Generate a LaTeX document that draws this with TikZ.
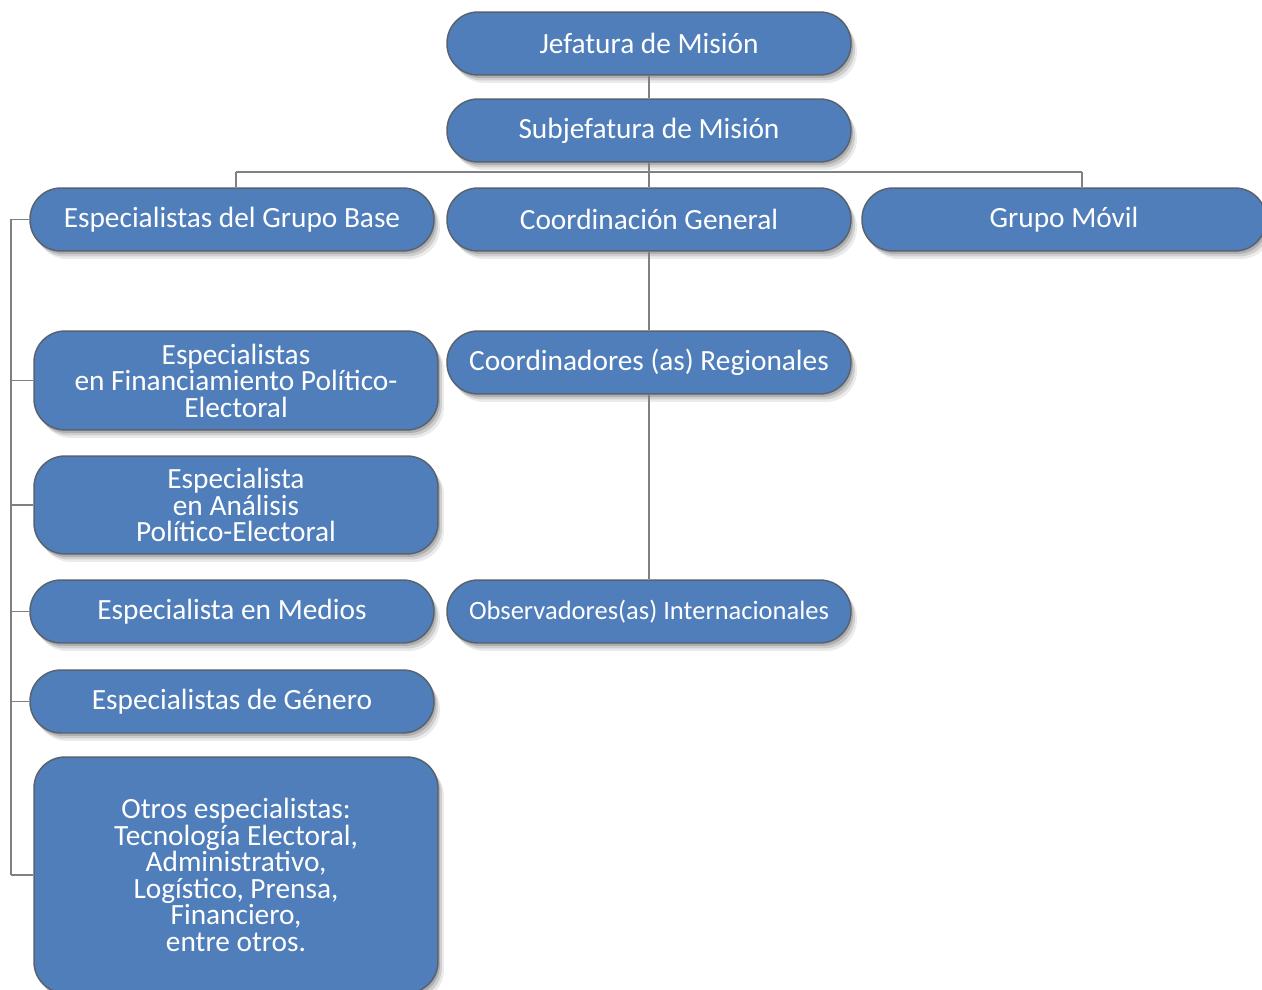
\documentclass[tikz,border=0pt]{standalone}
\usepackage{fontspec}
\setmainfont{Carlito}
\usetikzlibrary{shadows,positioning}
\definecolor{boxblue}{RGB}{79,126,187}
\definecolor{boxedge}{RGB}{88,98,112}
\definecolor{linegray}{RGB}{128,128,128}

\begin{document}
\begin{tikzpicture}[
    x=0.02cm, y=-0.02cm,
    every node/.style={
        font=\fontsize{16.7}{15.1}\selectfont,
    },
    unit/.style={
        draw=boxedge, line width=0.85pt, fill=boxblue, text=white,
        rounded corners=0.62cm, minimum width=8.08cm, minimum height=1.26cm,
        align=center, inner sep=0pt,
        drop shadow={shadow xshift=0.12cm, shadow yshift=-0.16cm, opacity=0.08, fill=black},
        drop shadow={shadow xshift=0.08cm, shadow yshift=-0.11cm, opacity=0.12, fill=black},
        drop shadow={shadow xshift=0.04cm, shadow yshift=-0.06cm, opacity=0.15, fill=black},
    },
    link/.style={draw=linegray, line width=0.7pt},
]
    \clip (0,0) rectangle (1262,990);
    \fill[white] (0,0) rectangle (1262,990);
    % central column
    \node[unit] (jefe) at (649,43.5) {Jefatura de Misión};
    \node[unit] (subjefe) at (649,130.5) {Subjefatura de Misión};
    \node[unit] (coordgral) at (649,219.5) {Coordinación General};
    \node[unit] (coordreg) at (649,362.5) {Coordinadores (as) Regionales};
    \node[unit, font=\fontsize{15.1}{15}\selectfont] (observ) at (649,611.5) {Observadores(as) Internacionales};
    \node[unit] (movil) at (1064,219.5) {Grupo Móvil};
    % left column
    \node[unit] (grupobase) at (232,219.5) {Especialistas del Grupo Base};
    \node[unit, minimum height=1.98cm] (financ) at (236,380.5) {Especialistas\\en Financiamiento Político-\\Electoral};
    \node[unit, minimum height=1.96cm] (analisis) at (236,505) {Especialista\\en Análisis\\Político-Electoral};
    \node[unit] (medios) at (232,611.5) {Especialista en Medios};
    \node[unit] (genero) at (232,701.5) {Especialistas de Género};
    \node[unit, minimum height=4.72cm] (otros) at (236,875) {Otros especialistas:\\Tecnología Electoral,\\Administrativo,\\Logístico, Prensa,\\Financiero,\\entre otros.};
    % connectors
    \draw[link] (jefe) -- (subjefe);
    \draw[link] (subjefe) -- (coordgral);
    \draw[link] (coordgral) -- (coordreg);
    \draw[link] (coordreg) -- (observ);
    \coordinate (busL) at (236,172);
    \coordinate (busR) at (1082,172);
    \draw[link] (busL) -- (busR);
    \draw[link] (busL) -- (busL |- grupobase.north);
    \draw[link] (busR) -- (busR |- movil.north);
    \coordinate (rail) at (11,219.5);
    \draw[link] (rail |- grupobase.west) -- (rail |- otros.west);
    \foreach \n in {grupobase,financ,analisis,medios,genero,otros}
        \draw[link] (rail |- \n.west) -- (\n.west);
\end{tikzpicture}
\end{document}
